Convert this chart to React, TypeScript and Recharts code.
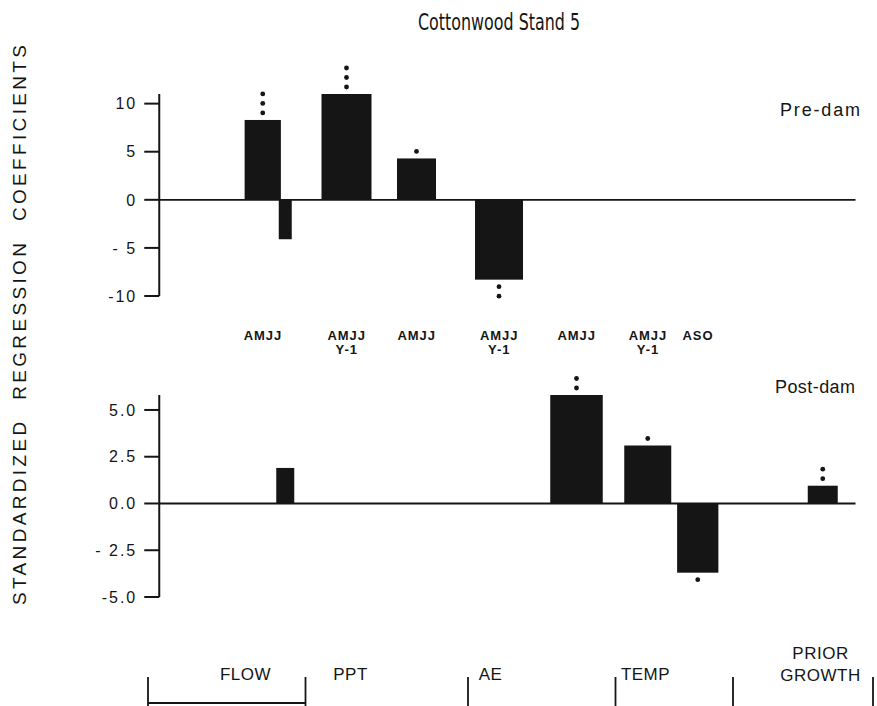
import React from 'react';
import { BarChart, Bar, XAxis, YAxis, ReferenceLine } from 'recharts';

// predictor variables, in the order they sit along the axis
const variables = [
  'FLOW AMJJ', 'FLOW', 'PPT AMJJ Y-1', 'PPT AMJJ', 'AE AMJJ Y-1',
  'AE AMJJ', 'TEMP AMJJ Y-1', 'TEMP ASO', 'PRIOR GROWTH',
];
const varX = [4.6, 5.5, 7.95, 10.75, 14.05, 17.15, 20.0, 22.0, 27.0];
const monthLabels = ['AMJJ', '', 'AMJJ', 'AMJJ', 'AMJJ', 'AMJJ', 'AMJJ', 'ASO', ''];
const lagLabels = ['', '', 'Y-1', '', 'Y-1', '', 'Y-1', '', ''];

const preDam = [8.3, -4.1, 11.0, 4.3, -8.3, null, null, null, null];
const postDam = [null, 1.9, null, null, null, 5.8, 3.1, -3.7, 0.95];
// number of significance dots over each bar
const preSig = [3, 0, 3, 1, 2, 0, 0, 0, 0];
const postSig = [0, 0, 0, 0, 0, 2, 1, 1, 2];

const groups = ['FLOW', 'PPT', 'AE', 'TEMP', 'PRIOR GROWTH'];
const groupBounds = [0, 6.3, 12.8, 18.7, 23.4, 29];
const groupLabelX = [3.9, 8.1, 13.7, 19.9, 26.9];

const preTicks = [-10, -5, 0, 5, 10];
const preTickLabels = ['-10', '- 5', '0', '5', '10'];
const postTicks = [-5, -2.5, 0, 2.5, 5];
const postTickLabels = ['-5.0', '- 2.5', '0.0', '2.5', '5.0'];

// drawing constants
const UNIT = 25; // px per x unit, plot runs 0..29
const AXIS_X = 0.45; // y axis sits a bit right of the bracket start
const ZERO_END = 28.3;
const preWidths = [1.45, 0.52, 2.0, 1.56, 1.92, 0, 0, 0, 0];
const postWidths = [0, 0.72, 0, 0, 0, 2.1, 1.88, 1.65, 1.2];
const INK = '#151515';
const SANS = "'Liberation Sans', Arial, sans-serif";

const rows = variables.map((name, i) => ({ name, x: varX[i], pre: preDam[i], post: postDam[i] }));

const barShape = (key: 'pre' | 'post', widths: number[], sig: number[]) => (p: any) => {
  const i = variables.indexOf(p.payload?.name);
  const v = p.payload?.[key];
  if (i < 0 || v == null) return <g />;
  const cx = p.x + p.width / 2;
  const w = widths[i] * UNIT;
  const top = Math.min(p.y, p.y + p.height);
  const h = Math.abs(p.height);
  const dots = [];
  for (let k = 0; k < sig[i]; k++) {
    const off = 7 + k * 9.5;
    const cy = v >= 0 ? top - off : top + h + off;
    dots.push(<circle key={k} cx={cx} cy={cy} r={2.4} fill={INK} />);
  }
  return (
    <g>
      <rect x={cx - w / 2} y={top} width={w} height={h} fill={INK} />
      {dots}
    </g>
  );
};

const yTick = (labels: string[], ticks: number[]) => (p: any) => {
  const i = ticks.indexOf(p.payload.value);
  const ax = p.x + AXIS_X * UNIT;
  return (
    <g>
      <line x1={ax - 15} x2={ax} y1={p.y} y2={p.y} stroke={INK} strokeWidth={2} />
      <text x={ax - 22} y={p.y} dy="0.36em" textAnchor="end" fontFamily={SANS}
        fontSize={16} letterSpacing={2} fill={INK}>
        {labels[i]}
      </text>
    </g>
  );
};

const MonthTick = (p: any) => {
  const i = varX.indexOf(p.payload.value);
  if (i < 0) return <g />;
  return (
    <g fontFamily={SANS} fontWeight="bold" fontSize={13} fill={INK} textAnchor="middle" letterSpacing={1}>
      <text x={p.x} y={p.y + 44}>{monthLabels[i]}</text>
      <text x={p.x} y={p.y + 58}>{lagLabels[i]}</text>
    </g>
  );
};

const GroupTick = (p: any) => {
  const b = groupBounds.indexOf(p.payload.value);
  const g = groupLabelX.indexOf(p.payload.value);
  if (b >= 0) {
    return (
      <g stroke={INK} strokeWidth={1.8}>
        <line x1={p.x} x2={p.x} y1={p.y + 80} y2={p.y + 109} />
        {b === 0 && (
          <line x1={p.x} x2={p.x + (groupBounds[1] - groupBounds[0]) * UNIT} y1={p.y + 106} y2={p.y + 106} />
        )}
      </g>
    );
  }
  if (g < 0) return <g />;
  const words = groups[g] === 'PRIOR GROWTH' ? ['PRIOR', 'GROWTH'] : [groups[g]];
  return (
    <g fontFamily={SANS} fontSize={17} fill={INK} textAnchor="middle" letterSpacing={0.5}>
      {words.length === 1 ? (
        <text x={p.x} y={p.y + 83}>{words[0]}</text>
      ) : (
        <>
          <text x={p.x} y={p.y + 62}>{words[0]}</text>
          <text x={p.x} y={p.y + 84}>{words[1]}</text>
        </>
      )}
    </g>
  );
};

const bottomTicks = [...groupBounds, ...groupLabelX].sort((a, b) => a - b);

export default function App() {
  return (
    <div style={{ position: 'absolute', left: 0, top: 0, width: 877, height: 706, background: '#fff', overflow: 'hidden' }}>
      <div style={{ position: 'absolute', left: 0, top: 0 }}>
        <BarChart width={877} height={380} data={rows} margin={{ top: 94, right: 4, bottom: 0, left: 88 }}>
          <XAxis type="number" dataKey="x" domain={[0, 29]} ticks={varX} interval={0} height={84}
            tickSize={0} tickMargin={0} axisLine={false} tickLine={false} tick={MonthTick} />
          <YAxis type="number" domain={[-10, 10]} ticks={preTicks} interval={0} width={60}
            tickSize={0} tickMargin={0} axisLine={false} tickLine={false} tick={yTick(preTickLabels, preTicks)} />
          <ReferenceLine x={AXIS_X} stroke={INK} strokeWidth={2} />
          <ReferenceLine segment={[{ x: AXIS_X, y: 0 }, { x: ZERO_END, y: 0 }]} stroke={INK} strokeWidth={1.8} />
          <Bar dataKey="pre" barSize={10} isAnimationActive={false} shape={barShape('pre', preWidths, preSig)} />
        </BarChart>
      </div>
      <div style={{ position: 'absolute', left: 0, top: 300 }}>
        <BarChart width={877} height={406} data={rows} margin={{ top: 95, right: 4, bottom: 0, left: 88 }}>
          <XAxis type="number" dataKey="x" domain={[0, 29]} ticks={bottomTicks} interval={0} height={109}
            tickSize={0} tickMargin={0} axisLine={false} tickLine={false} tick={GroupTick} />
          <YAxis type="number" domain={[-5, 5]} ticks={postTicks} interval={0} width={60}
            tickSize={0} tickMargin={0} axisLine={false} tickLine={false} tick={yTick(postTickLabels, postTicks)} />
          <ReferenceLine x={AXIS_X} stroke={INK} strokeWidth={2} />
          <ReferenceLine segment={[{ x: AXIS_X, y: 0 }, { x: ZERO_END, y: 0 }]} stroke={INK} strokeWidth={1.8} />
          <Bar dataKey="post" barSize={10} isAnimationActive={false} shape={barShape('post', postWidths, postSig)} />
        </BarChart>
      </div>
      <svg width={877} height={706} style={{ position: 'absolute', left: 0, top: 0, pointerEvents: 'none' }}>
        <text x={499} y={30} textAnchor="middle" fontSize={23} fill={INK} textLength={162} lengthAdjust="spacingAndGlyphs"
          fontFamily="'DejaVu Sans Condensed', 'Liberation Sans Narrow', 'Liberation Sans', sans-serif">
          Cottonwood Stand 5
        </text>
        <text transform="rotate(-90)" x={-325} y={26} textAnchor="middle" fontSize={19} fill={INK}
          fontFamily={SANS} wordSpacing={10} textLength={560} lengthAdjust="spacing">
          STANDARDIZED REGRESSION COEFFICIENTS
        </text>
        <text x={780} y={116} fontSize={18} fill={INK} fontFamily={SANS} textLength={80} lengthAdjust="spacing">Pre-dam</text>
        <text x={775} y={393} fontSize={18} fill={INK} fontFamily={SANS} textLength={80} lengthAdjust="spacing">Post-dam</text>
      </svg>
    </div>
  );
}
